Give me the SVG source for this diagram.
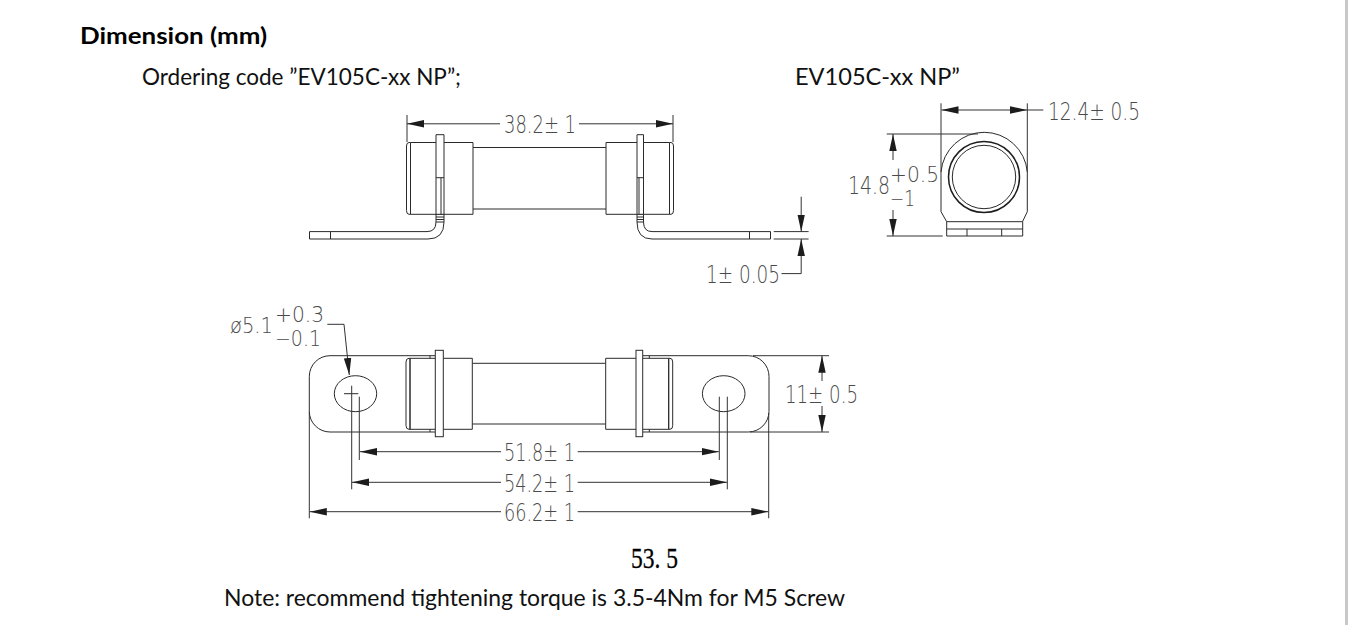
<svg xmlns="http://www.w3.org/2000/svg" width="1348" height="625" viewBox="0 0 1348 625">
<style>
.l{fill:none;stroke:#2a2a2a;stroke-width:1}
.w{fill:#fff;stroke:#2a2a2a;stroke-width:1}
.d{fill:none;stroke:#333;stroke-width:1;marker-end:url(#a)}
.e{fill:none;stroke:#333;stroke-width:1}
.c{font-family:"DejaVu Sans",sans-serif;font-weight:200;font-size:25px;fill:#4a4a4a}
.s{font-size:22px}
.t{font-family:Lato,"Liberation Sans",sans-serif;font-size:23px;fill:#111}
.b{font-weight:700;fill:#000}
</style>
<defs>
<marker id="a" markerUnits="userSpaceOnUse" markerWidth="18" markerHeight="8" refX="17" refY="4" orient="auto"><path d="M0 0.300L17 4L0 7.700Z" fill="#1c1c1c"/></marker>
</defs>
<rect width="1348" height="625" fill="#fff"/>
<rect x="1345" width="3" height="625" fill="#c8c8c8"/>

<g id="headings">
<text class="t b" x="80" y="44" textLength="187" lengthAdjust="spacingAndGlyphs">Dimension (mm)</text>
<text class="t" x="142" y="85" textLength="319" lengthAdjust="spacingAndGlyphs">Ordering code ”EV105C-xx NP”;</text>
<text class="t" x="795" y="85" textLength="165" lengthAdjust="spacingAndGlyphs">EV105C-xx NP”</text>
<text class="t" x="224" y="606" textLength="621" lengthAdjust="spacingAndGlyphs">Note: recommend tightening torque is 3.5-4Nm for M5 Screw</text>
</g>

<g id="side-view">
<path class="l" d="M473 147.500H606M473 209H606"/>
<path class="l" d="M410.500 142.500H473V214.300H410.500ZM410.500 142.500H409Q406.500 142.500 406.500 146V210.500Q406.500 214.300 409 214.300H410.500"/>
<path class="l" d="M606 142.500H669.500V214.300H606ZM669.500 142.500H671Q673.500 142.500 673.500 146V210.500Q673.500 214.300 671 214.300H669.500"/>
<path class="w" d="M436 134.700H444V214.300H436Z"/>
<path class="l" d="M441 177.700V214.300M436 177.700H444"/>
<path class="w" d="M637 134.700H643.500V214.300H637Z"/>
<path class="l" d="M639 177.700V214.300M637 177.700H643.500"/>
<path class="l" d="M436 214.300V222Q436 231.600 427 231.600H309.500V239H428Q444 239 444 222V214.300M330.500 231.600V239M436 217H444M436 219.500H444M436 222H444"/>
<path class="l" d="M643.500 214.300V222Q643.500 231.600 652 231.600H770.500V239H652Q637 239 637 222V214.300M749.500 231.600V239M637 217H643.500M637 219.500H643.500M637 222H643.500"/>
</g>

<g id="end-view">
<path class="l" d="M941 172A43.300 43.300 0 0 1 1027.300 172V211.700L1022.500 221.700H946.700L941 211.700Z"/>
<circle cx="984" cy="177" r="35.500" fill="none" stroke="#1c1c1c" stroke-width="1.500"/>
<circle cx="984" cy="177" r="31.700" class="l"/>
<path class="l" d="M946.700 221.700V236H1022.700V221.700M946.700 229H1022.700M967 229V236M1001.700 229V236"/>
</g>

<g id="top-view">
<path class="l" d="M435 355.700H330A20.700 20.700 0 0 0 309.300 376.400V411.300A20.700 20.700 0 0 0 330 432H435M643 355.700H748.300A20.700 20.700 0 0 1 769 376.400V411.300A20.700 20.700 0 0 1 748.300 432H643"/>
<ellipse class="l" cx="355.500" cy="393.700" rx="21.200" ry="18"/>
<ellipse class="l" cx="723.700" cy="393.700" rx="21.300" ry="18"/>
<path class="l" d="M344 393.700H358.300"/>
<path class="l" d="M472.300 363.300H605.700M472.300 424H605.700"/>
<path class="w" d="M410 358.300H472.300V429.300H410ZM410 358.300H409Q406 358.300 406 362V425.500Q406 429.300 409 429.300H410Z"/>
<path class="w" d="M605.700 358.300H668.700V429.300H605.700ZM668.700 358.300H670Q672.700 358.300 672.700 362V425.500Q672.700 429.300 670 429.300H668.700Z"/>
<path class="l" d="M430 355.700V358.300M430 429.300V432M649.300 355.700V358.300M649.300 429.300V432"/>
<rect class="w" x="435.300" y="350.300" width="8" height="86.400"/>
<rect class="w" x="636" y="350.300" width="6.700" height="86.400"/>
</g>

<g id="connectors">
<path class="e" d="M407 115V142M673 115V142M941 103.300V172M1027.300 103.300V172M886.700 134H978M886.700 236H942.700M773.700 231.600H808.600M773.700 239H808.600"/>
<path class="e" d="M351.700 385.700V489.300M359.300 396.700V460M719.300 396.700V460M727.300 396.700V489.300M309.300 411.700V518.300M768.700 413V518.300M753 355.700H829M750 432H829"/>
<path class="d" d="M500 123.800H407"/><path class="d" d="M579 123.800H673"/>
<path class="d" d="M801.200 196.700V231.600"/><path class="d" d="M801.200 273.600V239"/><path class="e" d="M801.200 273.600H781.500"/>
<path class="d" d="M985 110H941.500"/><path class="e" d="M1027 110H1043.300"/><path class="d" d="M985 110H1027"/>
<path class="d" d="M893 160V134"/><path class="d" d="M893 210V236"/>
<path class="e" d="M327.300 324.300H344"/><path class="d" d="M344 324.300L349.300 375"/>
<path class="d" d="M501 451.700H360"/><path class="d" d="M577.700 451.700H718.800"/>
<path class="d" d="M501 482.300H352"/><path class="d" d="M577.700 482.300H727"/>
<path class="d" d="M501 511.700H309.800"/><path class="d" d="M577.700 511.700H768.300"/>
<path class="d" d="M822 381V355.700"/><path class="d" d="M822 406V432"/>
</g>

<g id="dimension-labels">
<text class="c" x="504" y="133" textLength="72" lengthAdjust="spacingAndGlyphs">38.2± 1</text>
<text class="c" x="706" y="283" textLength="74" lengthAdjust="spacingAndGlyphs">1± 0.05</text>
<text class="c" x="1048" y="120" textLength="92" lengthAdjust="spacingAndGlyphs">12.4± 0.5</text>
<text class="c" x="848" y="194" textLength="42" lengthAdjust="spacingAndGlyphs">14.8</text>
<text class="c s" x="890" y="182" textLength="49" lengthAdjust="spacingAndGlyphs">+0.5</text>
<text class="c s" x="890" y="206" textLength="25" lengthAdjust="spacingAndGlyphs">−1</text>
<text class="c s" x="230" y="333.300" textLength="43" lengthAdjust="spacingAndGlyphs">ø5.1</text>
<text class="c s" x="275" y="321.700" textLength="49" lengthAdjust="spacingAndGlyphs">+0.3</text>
<text class="c s" x="275" y="345.700" textLength="46" lengthAdjust="spacingAndGlyphs">−0.1</text>
<text class="c" x="785" y="402.700" textLength="73" lengthAdjust="spacingAndGlyphs">11± 0.5</text>
<text class="c" x="504" y="461" textLength="71" lengthAdjust="spacingAndGlyphs">51.8± 1</text>
<text class="c" x="504" y="492" textLength="71" lengthAdjust="spacingAndGlyphs">54.2± 1</text>
<text class="c" x="504" y="521" textLength="71" lengthAdjust="spacingAndGlyphs">66.2± 1</text>
<text x="631" y="567.700" textLength="47" lengthAdjust="spacingAndGlyphs" font-family="Liberation Serif, serif" font-size="29.500" fill="#000" stroke="#000" stroke-width="0.300">53. 5</text>
</g>
</svg>
